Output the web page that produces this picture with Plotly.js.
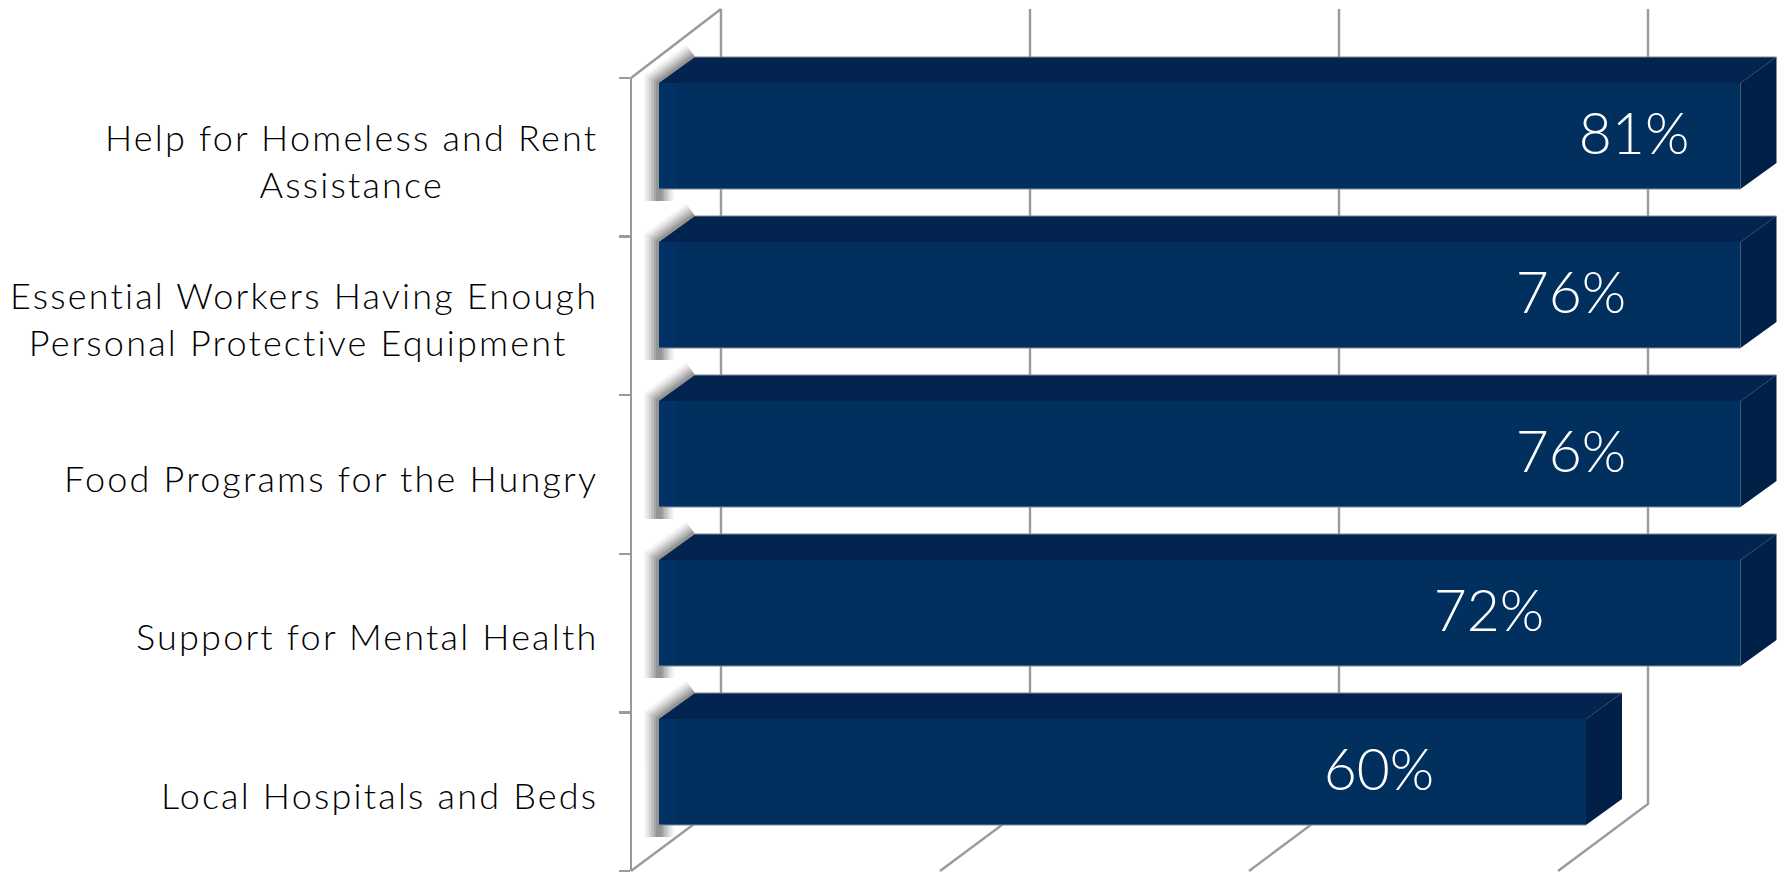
<!DOCTYPE html>
<html><head><meta charset="utf-8">
<script src="https://cdn.plot.ly/plotly-3.0.1.min.js"></script>
<style>html,body{margin:0;padding:0;background:#fff}#chart{width:1779px;height:872px}
.annotation-text{letter-spacing:2.2px}</style>
</head><body><div id="chart"></div>
<script>
// ---- data ----
const categories = [
  "Help for Homeless and Rent<br>Assistance",
  "Essential Workers Having Enough<br>Personal Protective Equipment ",
  "Food Programs for the Hungry",
  "Support for Mental Health",
  "Local Hospitals and Beds"
];
const values = [81, 76, 76, 72, 60];
const valueLabels = ["81%", "76%", "76%", "72%", "60%"];
const gridValues = [0, 20, 40, 60];
const barCap = 70;                // the long bars are cut off at this value in the picture

// ---- layout geometry (px) ----
const W = 1779, H = 872;
const X0 = 659, PX_PER_PCT = 15.45;     // bar plane: 0% and scale
const Y0 = 136, PX_PER_CAT = 159;       // bar plane: first bar centre and spacing
const ux = p => p / PX_PER_PCT, uy = p => p / PX_PER_CAT;
const xRange = [-X0 / PX_PER_PCT, (W - X0) / PX_PER_PCT];
const yRange = [(H - Y0) / PX_PER_CAT, -Y0 / PX_PER_CAT];
const half = uy(53), bdx = ux(36), bdy = uy(26);
const frontDx = ux(631 - X0), backDx = ux(721 - X0);
const wallTop = uy(9 - Y0), wallFloor = uy(804 - Y0), frontTop = uy(78 - Y0), frontFloor = uy(871 - Y0);
const idx = categories.map((_, i) => i);
const ends = values.map(v => Math.min(v, barCap));

const NAVY = "#01305f", TOP = "#02244f", SIDE = "#012047", LINE = "#9a9a9a", STRIP = "#023265";
const FONT = "Lato, 'Open Sans', sans-serif";

function poly(pts) { return { x: pts.map(p => p[0]).concat(null), y: pts.map(p => p[1]).concat(null) }; }
function merge(list) { return { x: [].concat(...list.map(l => l.x)), y: [].concat(...list.map(l => l.y)) }; }
function fillTrace(list, color) {
  const m = merge(list);
  return { type: "scatter", mode: "lines", x: m.x, y: m.y, fill: "toself", fillcolor: color,
           line: { width: 0, color: color }, hoverinfo: "skip", showlegend: false, xaxis: "x2", yaxis: "y2" };
}

// ---- wall, floor and shadow lines, on the lower subplot ----
const wallSegs = gridValues.map(g => poly([[g + backDx, wallTop], [g + backDx, wallFloor], [g + frontDx, frontFloor]]));
wallSegs.push(poly([[frontDx, frontTop], [backDx, wallTop]]));
const wm = merge(wallSegs);
const wallTrace = { type: "scatter", mode: "lines", x: wm.x, y: wm.y, line: { color: LINE, width: 2.4 },
                    hoverinfo: "skip", showlegend: false };
const sm = merge(idx.map(i => poly([[0, i + half + uy(12)], [0, i - half], [bdx, i - half - bdy]])));
const shadowTraces = [[30, .06], [25, .09], [20, .13], [15, .16], [10, .18], [6, .2]].map(s => ({
  type: "scatter", mode: "lines", x: sm.x, y: sm.y, opacity: s[1],
  line: { color: "#505050", width: s[0] }, hoverinfo: "skip", showlegend: false
}));

// ---- bars ----
const barTrace = { type: "bar", orientation: "h", x: ends, y: idx, width: 2 * half, marker: { color: NAVY, line: { width: 0 } },
                   hoverinfo: "skip", showlegend: false, xaxis: "x2", yaxis: "y2" };
const topFaces = fillTrace(idx.map(i => poly([[0, i - half], [ends[i], i - half], [ends[i] + bdx, i - half - bdy], [bdx, i - half - bdy], [0, i - half]])), TOP);
const sideFaces = fillTrace(idx.map(i => poly([[ends[i], i - half], [ends[i] + bdx, i - half - bdy], [ends[i] + bdx, i + half - bdy], [ends[i], i + half], [ends[i], i - half]])), SIDE);
const stripFaces = fillTrace(idx.map(i => poly([[0, i - half], [ux(18), i - half], [ux(18), i + half], [0, i + half], [0, i - half]])), STRIP);
const em = merge(idx.flatMap(i => [poly([[bdx, i - half - bdy], [ends[i] + bdx, i - half - bdy]]), poly([[0, i + half], [ends[i], i + half]])]));
const edgeTrace = { type: "scatter", mode: "lines", x: em.x, y: em.y, line: { color: "#7f8896", width: 1.2 },
                    hoverinfo: "skip", showlegend: false, xaxis: "x2", yaxis: "y2" };

// ---- value labels ----
const labelFraction = 0.7767, labelNudge = [0.2, 0, 0, -2.2, 0], labelDrop = uy(4);
const labelTrace = { type: "scatter", mode: "text", x: values.map((v, i) => v * labelFraction + labelNudge[i]), y: idx.map(i => i + labelDrop),
  text: valueLabels, textposition: "middle center", textfont: { family: FONT, size: 57, weight: 300, color: "#ffffff" },
  hoverinfo: "skip", showlegend: false, cliponaxis: false, xaxis: "x2", yaxis: "y2" };

// ---- invisible trace that brings up the left category axis ----
const axisTrace = { type: "scatter", mode: "none", x: [0], y: [0], xaxis: "x", yaxis: "y3", hoverinfo: "skip", showlegend: false };

const annotations = idx.map(i => ({
  text: categories[i], xref: "paper", x: 600 / W, yref: "y3", y: i, yshift: -3, xanchor: "right", yanchor: "middle",
  align: "center", showarrow: false, font: { family: FONT, size: 36, weight: 300, color: "#000000" }
}));

const hidden = { showgrid: false, zeroline: false, showticklabels: false, ticks: "", showline: false, fixedrange: true };
const layout = {
  width: W, height: H, margin: { l: 0, r: 0, t: 0, b: 0, pad: 0 }, paper_bgcolor: "#fff", plot_bgcolor: "rgba(0,0,0,0)",
  showlegend: false, barmode: "overlay",
  xaxis: Object.assign({ range: xRange, domain: [0, 1] }, hidden),
  yaxis: Object.assign({ range: yRange, domain: [0, 1] }, hidden),
  xaxis2: Object.assign({ range: xRange, overlaying: "x", anchor: "y2" }, hidden),
  yaxis2: Object.assign({ range: yRange, overlaying: "y", anchor: "x2" }, hidden),
  yaxis3: { range: [categories.length - .5, -.5], domain: [1 - 871 / H, 1 - 78 / H], anchor: "free", position: 631 / W, side: "left",
            tick0: -.5, dtick: 1, ticks: "outside", ticklen: 11, tickwidth: 2.4, tickcolor: LINE, showline: true, linecolor: LINE, linewidth: 2.4,
            showticklabels: false, showgrid: false, zeroline: false, fixedrange: true },
  annotations: annotations
};
Plotly.newPlot("chart", [wallTrace].concat(shadowTraces, [axisTrace, barTrace, stripFaces, topFaces, sideFaces, edgeTrace, labelTrace]), layout,
  { displayModeBar: false, staticPlot: true });
</script></body></html>
